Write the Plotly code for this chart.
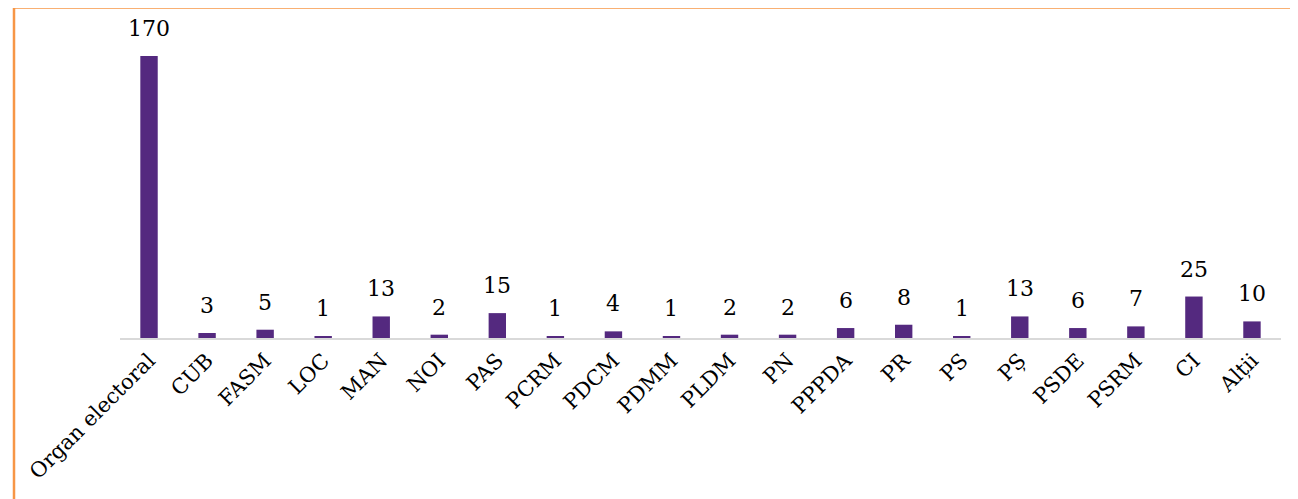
import plotly.graph_objects as go

categories = ["Organ electoral", "CUB", "FASM", "LOC", "MAN", "NOI", "PAS", "PCRM", "PDCM", "PDMM",
              "PLDM", "PN", "PPPDA", "PR", "PS", "PȘ", "PSDE", "PSRM", "CI", "Alții"]
values = [170, 3, 5, 1, 13, 2, 15, 1, 4, 1, 2, 2, 6, 8, 1, 13, 6, 7, 25, 10]

FONT = "DejaVu Serif"
BAR_COLOR = "#54297F"

fig = go.Figure()
fig.add_trace(go.Bar(
    x=categories, y=values, width=0.3,
    marker=dict(color=BAR_COLOR, line=dict(width=0)),
    hoverinfo="x+y",
))

for c, v in zip(categories, values):
    fig.add_annotation(x=c, y=v, text=str(v), showarrow=False, xanchor="center",
                       yanchor="bottom", yshift=13,
                       font=dict(family=FONT, size=22, color="#000000"))

fig.add_shape(type="rect", xref="paper", yref="paper",
              x0=-0.0913, x1=1.2, y0=-1.0, y1=1.0393,
              line=dict(color="#F79646", width=2.5), fillcolor="rgba(0,0,0,0)", layer="above")

fig.update_layout(
    width=1290, height=491,
    margin=dict(l=112, r=17, t=12, b=161),
    paper_bgcolor="white", plot_bgcolor="white",
    showlegend=False,
    bargap=0.7,
    font=dict(family=FONT, size=21, color="#000000"),
)
fig.update_xaxes(
    type="category", tickangle=-45, showline=True, linecolor="#D9D9D9", linewidth=2,
    showgrid=False, ticks="", tickfont=dict(family=FONT, size=21, color="#000000"),
)
fig.update_yaxes(range=[0, 191.7], visible=False, showgrid=False, zeroline=False)

fig.write_html("out.html")
